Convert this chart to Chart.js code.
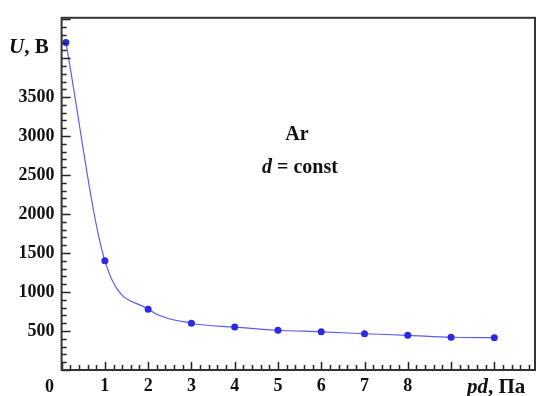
<!DOCTYPE html>
<html>
<head>
<meta charset="utf-8">
<script src="https://cdn.jsdelivr.net/npm/chart.js@4"></script>
<style>
  html, body { margin: 0; padding: 0; background: #fff; }
  #wrap { width: 539px; height: 396px; }
</style>
</head>
<body>
<div id="wrap"><canvas id="chart"></canvas></div>
<script>
// measured points: pd (Pa) vs breakdown voltage U (V)
var pdValues = [0.1, 1, 2, 3, 4, 5, 6, 7, 8, 9, 10];
var uValues = [4200, 1400, 780, 600, 550, 510, 490, 465, 445, 420, 415];

// which ticks get a number
var xTickLabels = [1, 2, 3, 4, 5, 6, 7, 8];
var yTickLabels = [500, 1000, 1500, 2000, 2500, 3000, 3500];

var serif = '"Liberation Serif", "DejaVu Serif", serif';

var points = pdValues.map(function (x, i) {
  return { x: x, y: uValues[i] };
});

// draws the frame, inward ticks and the free text
var decorations = {
  id: 'decorations',
  afterDraw: function (chart) {
    var ctx = chart.ctx;
    var area = chart.chartArea;
    var xs = chart.scales.x;
    var ys = chart.scales.y;
    ctx.save();
    ctx.strokeStyle = '#222';
    ctx.lineWidth = 1.5;

    // ticks on x, every 0.2
    for (var i = 0; i <= 54; i++) {
      var v = i / 5;
      var px = Math.round(xs.getPixelForValue(v)) + 0.5;
      if (px > area.right - 1) break;
      var len = (i % 5 === 0) ? 8 : 5;
      ctx.beginPath();
      ctx.moveTo(px, area.bottom);
      ctx.lineTo(px, area.bottom - len);
      ctx.stroke();
    }
    // ticks on y, every 100
    for (var j = 0; j <= 45; j++) {
      var val = j * 100;
      var py = Math.round(ys.getPixelForValue(val)) + 0.5;
      if (py < area.top + 1) break;
      var l = (j % 5 === 0) ? 9 : 5;
      ctx.beginPath();
      ctx.moveTo(area.left, py);
      ctx.lineTo(area.left + l, py);
      ctx.stroke();
    }

    // frame
    ctx.strokeStyle = '#333';
    ctx.lineWidth = 2;
    ctx.strokeRect(area.left, area.top, area.right - area.left, area.bottom - area.top);

    ctx.fillStyle = '#111';
    ctx.textBaseline = 'alphabetic';

    // origin label
    ctx.font = 'bold 18px ' + serif;
    ctx.textAlign = 'right';
    ctx.fillText('0', 54, 392);

    // axis titles
    ctx.textAlign = 'left';
    ctx.font = 'italic bold 21px ' + serif;
    ctx.fillText('U', 9, 53);
    var w = ctx.measureText('U').width;
    ctx.font = 'bold 21px ' + serif;
    ctx.fillText(', В', 9 + w, 53);

    ctx.font = 'italic bold 21px ' + serif;
    ctx.fillText('pd', 467, 393);
    w = ctx.measureText('pd').width;
    ctx.font = 'bold 21px ' + serif;
    ctx.fillText(', Па', 467 + w, 393);

    // annotation
    ctx.textAlign = 'center';
    ctx.font = 'bold 20px ' + serif;
    ctx.fillText('Ar', 297, 140);

    ctx.font = 'italic bold 20px ' + serif;
    var wd = ctx.measureText('d').width;
    ctx.font = 'bold 20px ' + serif;
    var wr = ctx.measureText(' = const').width;
    var x0 = 300 - (wd + wr) / 2;
    ctx.textAlign = 'left';
    ctx.font = 'italic bold 20px ' + serif;
    ctx.fillText('d', x0, 173);
    ctx.font = 'bold 20px ' + serif;
    ctx.fillText(' = const', x0 + wd, 173);

    ctx.restore();
  }
};

var ctx = document.getElementById('chart').getContext('2d');
var chart = new Chart(ctx, {
  type: 'line',
  data: {
    datasets: [{
      data: points,
      borderColor: '#5a5af0',
      borderWidth: 1.2,
      backgroundColor: '#2a2ae0',
      pointBackgroundColor: '#2a2ae0',
      pointBorderWidth: 0,
      pointRadius: 3.5,
      cubicInterpolationMode: 'monotone',
      fill: false
    }]
  },
  options: {
    responsive: true,
    maintainAspectRatio: false,
    animation: false,
    layout: { padding: { top: 15, right: 2, left: 0, bottom: 0 } },
    plugins: {
      legend: { display: false },
      tooltip: { enabled: false }
    },
    scales: {
      x: {
        type: 'linear',
        min: 0,
        max: 10.94,
        grid: { display: false, drawTicks: false },
        border: { display: false },
        afterBuildTicks: function (scale) {
          scale.ticks = xTickLabels.map(function (v) { return { value: v }; });
        },
        afterFit: function (scale) { scale.height = 26; },
        ticks: {
          padding: 6,
          maxRotation: 0,
          autoSkip: false,
          color: '#111',
          callback: function (v) { return String(v); },
          font: { family: serif, size: 18, weight: 'bold' }
        }
      },
      y: {
        min: 0,
        max: 4517,
        grid: { display: false, drawTicks: false },
        border: { display: false },
        afterBuildTicks: function (scale) {
          scale.ticks = yTickLabels.map(function (v) { return { value: v }; });
        },
        afterFit: function (scale) { scale.width = 61.6; },
        ticks: {
          padding: 7,
          autoSkip: false,
          color: '#111',
          callback: function (v) { return String(v); },
          font: { family: serif, size: 18, weight: 'bold' }
        }
      }
    }
  },
  plugins: [decorations]
});
</script>
</body>
</html>
